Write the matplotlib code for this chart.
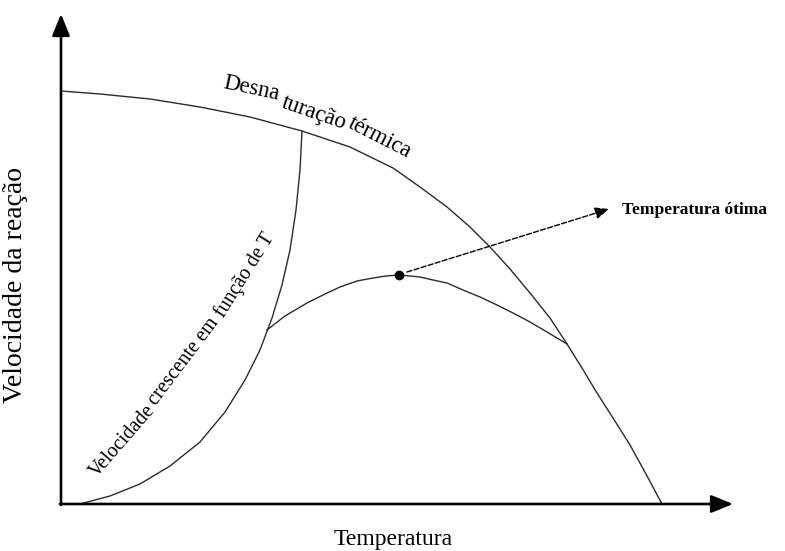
import matplotlib
matplotlib.use("Agg")
import matplotlib.pyplot as plt

plt.rcParams['font.family'] = ['Liberation Serif', 'DejaVu Serif']

# Curves (x = temperature, y = reaction rate; arbitrary units)
denat_x = [0, 39, 89, 139, 189, 241, 289, 332, 359, 386, 409, 429, 449, 469, 489, 506, 521, 536, 552, 569, 585, 601]
denat_y = [413, 410, 405, 397, 387, 373, 357, 336, 317, 297, 277, 257, 235, 211, 186, 160, 136, 111, 86, 59, 30, 0]

rise_x = [19, 49, 79, 109, 139, 164, 184, 199, 211, 221, 229, 235, 239, 241]
rise_y = [0, 8, 20, 38, 62, 92, 124, 154, 186, 219, 254, 294, 334, 373]

mid_x = [206, 224, 246, 264, 279, 296, 312, 325, 338, 349, 359, 372, 386, 402, 419, 436, 452, 469, 486, 506]
mid_y = [174, 188, 201, 210, 217, 223, 226, 228, 229, 228, 227, 224, 221, 214, 207, 199, 191, 182, 172, 160]

opt_x, opt_y = 338, 229
opt_label_x, opt_label_y = 548, 295

xlabel = "Temperatura"
ylabel = "Velocidade da reação"
opt_label = "Temperatura ótima"
denat_words = ["Desna", "turação", "térmica"]
rise_words = ["Velocidade", "crescente em", "função de T"]

fig = plt.figure(figsize=(7.85, 5.51), dpi=100)
ax = fig.add_axes([0, 0, 1, 1])
ax.set_xlim(-61, 724)
ax.set_ylim(-47, 504)
ax.axis('off')

line_kw = dict(color='#2b2b2b', lw=1.0, solid_joinstyle='round')
ax.plot(denat_x, denat_y, **line_kw)
ax.plot(rise_x, rise_y, **line_kw)
ax.plot(mid_x, mid_y, **line_kw)
ax.plot([opt_x], [opt_y], 'o', color='black', ms=6)

# axes with arrows
arrow_axis = dict(arrowstyle='-|>,head_length=1.1,head_width=0.45',
                  lw=1.9, color='black', shrinkA=0, shrinkB=0, mutation_scale=12)
ax.annotate('', xy=(672, 0), xytext=(-1, 0), arrowprops=arrow_axis)
ax.annotate('', xy=(0, 490), xytext=(0, -1), arrowprops=arrow_axis)

# dashed arrow to optimum label
ax.annotate('', xy=(opt_label_x, opt_label_y), xytext=(opt_x + 8, opt_y + 3),
            arrowprops=dict(arrowstyle='-|>,head_length=0.7,head_width=0.3',
                            lw=1.0, ls='--', color='black', shrinkA=0, shrinkB=0,
                            mutation_scale=12))
ax.text(561, 294, opt_label, fontsize=12.5, fontweight='bold', ha='left', va='center')

ax.text(332, -35, xlabel, fontsize=17, ha='center', va='center')
ax.text(-45, 219, ylabel, fontsize=20, ha='center', va='center', rotation=90)

# curve labels
ax.text(190, 415, denat_words[0], fontsize=16.5, ha='center', va='center', rotation=-12, rotation_mode='anchor')
ax.text(253, 391, denat_words[1], fontsize=16.5, ha='center', va='center', rotation=-19, rotation_mode='anchor')
ax.text(319, 366, denat_words[2], fontsize=16.5, ha='center', va='center', rotation=-27, rotation_mode='anchor')

ax.text(62, 63, rise_words[0], fontsize=14.5, ha='center', va='center', rotation=49, rotation_mode='anchor')
ax.text(123, 142, rise_words[1], fontsize=14.5, ha='center', va='center', rotation=53, rotation_mode='anchor')
ax.text(184, 229, rise_words[2], fontsize=14.5, ha='center', va='center', rotation=58, rotation_mode='anchor')

fig.savefig('out.png', dpi=100, facecolor='white')
